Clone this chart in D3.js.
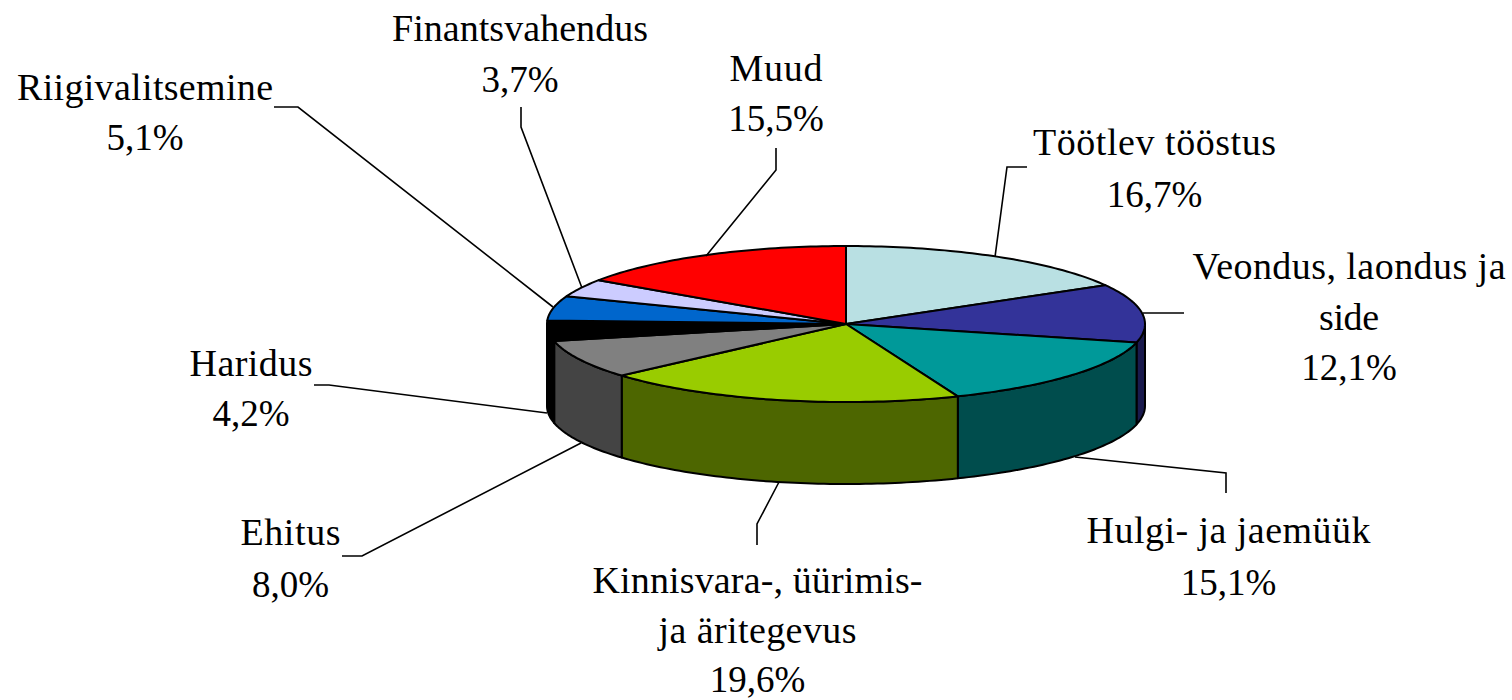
<!DOCTYPE html>
<html>
<head>
<meta charset="utf-8">
<script src="https://cdn.jsdelivr.net/npm/d3@7/dist/d3.min.js"></script>
<style>
  html, body { margin: 0; padding: 0; background: #fff; }
  svg { display: block; }
  .label { font-family: "Liberation Serif", serif; fill: #000; text-anchor: middle; }
  .name { font-size: 38px; }
  .share { font-size: 37px; }
  .leader { fill: none; stroke: #000; stroke-width: 1.6; }
  .slice, .wall { stroke: #000; stroke-width: 2; stroke-linejoin: round; }
</style>
</head>
<body>
<div id="chart"></div>
<script>
// data
var categories = ["Töötlev tööstus", "Veondus, laondus ja side", "Hulgi- ja jaemüük",
  "Kinnisvara-, üürimis- ja äritegevus", "Ehitus", "Haridus", "Riigivalitsemine",
  "Finantsvahendus", "Muud"];
var shares = [16.7, 12.1, 15.1, 19.6, 8.0, 4.2, 5.1, 3.7, 15.5];
var shareLabels = ["16,7%", "12,1%", "15,1%", "19,6%", "8,0%", "4,2%", "5,1%", "3,7%", "15,5%"];
var topColors = ["#B9E0E3", "#333399", "#009999", "#99CC00", "#808080", "#000000", "#0066CC", "#CCCCFF", "#FF0000"];
var wallColors = ["#5C7072", "#1A1A4D", "#004D4D", "#4D6600", "#444444", "#000000", "#003366", "#666680", "#800000"];

// layout of the labels and their leader lines, same order as categories
var labelLines = [
  ["Töötlev tööstus"], ["Veondus, laondus ja", "side"], ["Hulgi- ja jaemüük"],
  ["Kinnisvara-, üürimis-", "ja äritegevus"], ["Ehitus"], ["Haridus"], ["Riigivalitsemine"],
  ["Finantsvahendus"], ["Muud"]
];
// the original font runs wider than Liberation Serif, so name lines are stretched to these widths
var lineWidths = [[243], [313, 60], [284], [330, 198], [100], [123], [256], [256], [93]];
var labelX = [1154.5, 1349, 1228.5, 757.5, 290.5, 251, 145, 520, 776];
var labelY = [155, 279, 543, 593, 545, 376, 100, 41, 81];
var lineHeight = [52, 50.5, 52, 49.5, 52, 50, 50, 51, 50];
var leaders = [
  [[995, 257], [1007, 167], [1027, 167]],
  [[1143, 313], [1184, 313]],
  [[1075, 457], [1226, 473], [1226, 493]],
  [[779, 482], [757, 524], [757, 545]],
  [[581, 443], [362, 556], [342, 556]],
  [[547, 413], [329, 385], [314, 385]],
  [[553, 307], [298, 107], [274, 107]],
  [[582, 288], [521, 127], [521, 107]],
  [[706, 256], [776, 170], [776, 148]]
];

var width = 1512;
var height = 700;
var cx = 846;
var cy = 324;
var rx = 299;
var ry = 78;
var depth = 82;

var svg = d3
  .select("#chart")
  .append("svg")
  .attr("width", width)
  .attr("height", height);

var pie = d3.pie().sort(null).value(function(d) { return d; });
var arcs = pie(shares);

// squashed circle: angle 0 is twelve o'clock, going clockwise
var xScale = d3.scaleLinear().domain([-1, 1]).range([cx - rx, cx + rx]);
var yScale = d3.scaleLinear().domain([-1, 1]).range([cy - ry, cy + ry]);

function rimPoint(a, drop) {
  return [xScale(Math.sin(a)), yScale(-Math.cos(a)) + drop];
}

function rimPoints(a0, a1, drop) {
  var steps = Math.max(2, Math.ceil((a1 - a0) / 0.02));
  return d3.range(steps + 1).map(function(i) {
    return rimPoint(a0 + (a1 - a0) * i / steps, drop);
  });
}

var line = d3.line();

// walls only show on the front half of the rim
var walls = svg.append("g").attr("class", "walls");
arcs.forEach(function(d, i) {
  var a0 = Math.max(d.startAngle, Math.PI / 2);
  var a1 = Math.min(d.endAngle, Math.PI * 1.5);
  if (a1 <= a0) {
    return;
  }
  var pts = rimPoints(a0, a1, 0).concat(rimPoints(a0, a1, depth).reverse());
  walls
    .append("path")
    .attr("class", "wall")
    .attr("d", line(pts) + "Z")
    .attr("fill", wallColors[i]);
});

var faces = svg.append("g").attr("class", "faces");
arcs.forEach(function(d, i) {
  var pts = [[cx, cy]].concat(rimPoints(d.startAngle, d.endAngle, 0));
  faces
    .append("path")
    .attr("class", "slice")
    .attr("d", line(pts) + "Z")
    .attr("fill", topColors[i]);
});

svg
  .append("g")
  .selectAll("path")
  .data(leaders)
  .enter()
  .append("path")
  .attr("class", "leader")
  .attr("d", function(d) { return line(d); });

categories.forEach(function(name, i) {
  var group = svg.append("g").attr("data-name", name);
  labelLines[i].forEach(function(t, j) {
    group
      .append("text")
      .attr("class", "label name")
      .attr("x", labelX[i])
      .attr("y", labelY[i] + j * lineHeight[i])
      .attr("textLength", lineWidths[i][j])
      .text(t);
  });
  group
    .append("text")
    .attr("class", "label share")
    .attr("x", labelX[i])
    .attr("y", labelY[i] + labelLines[i].length * lineHeight[i])
    .text(shareLabels[i]);
});
</script>
</body>
</html>
